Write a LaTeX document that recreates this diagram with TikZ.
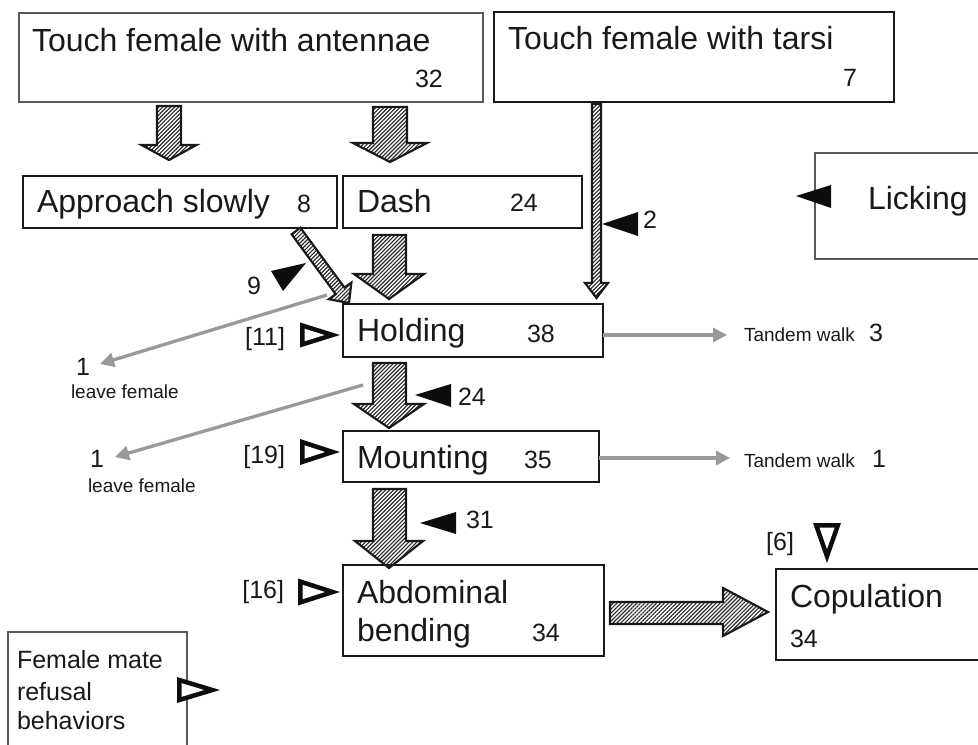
\documentclass[tikz,border=0pt]{standalone}
\usepackage{fontspec}
\setmainfont{Liberation Sans}
\usetikzlibrary{patterns.meta,arrows.meta}
\newcommand\fmain{\fontsize{24}{28}\selectfont}
\newcommand\fnum{\fontsize{18.75}{22}\selectfont}
\newcommand\fsmall{\fontsize{14.25}{17}\selectfont}
\newcommand\boxnode[6]{\node[#1, minimum width={(#4-#2)*0.75pt}, minimum height={(#5-#3)*0.75pt}] (#6) at ({(#2+#4)/2},{(#3+#5)/2}) {};}
% open (outlined) triangle: tip x, tip y, length, half height, rotation
\newcommand\opentri[5]{%
  \begin{scope}[shift={(#1,#2)},rotate=#5]
    \pgfmathsetmacro\tS{4.6*sqrt(#3*#3+#4*#4)/#4}
    \pgfmathsetmacro\tIL{#3-4.6-\tS}
    \pgfmathsetmacro\tIH{\tIL*#4/#3}
    \fill[black!95] (0,0) -- (-#3,-#4) -- (-#3,#4) -- cycle;
    \fill[white] (-\tS,0) -- ({-\tS-\tIL},-\tIH) -- ({-\tS-\tIL},\tIH) -- cycle;
  \end{scope}}
\tikzset{
  thinbox/.style={draw=black!65, line width=0.9pt, inner sep=0pt, outer sep=0pt},
  thickbox/.style={draw=black!90, line width=2pt, inner sep=0pt, outer sep=0pt},
  lab/.style={inner sep=0pt, outer sep=0pt, anchor=base west, font=\fmain, text=black!90},
  num/.style={inner sep=0pt, outer sep=0pt, anchor=base west, font=\fnum, text=black!90},
  small/.style={inner sep=0pt, outer sep=0pt, anchor=base west, font=\fsmall, text=black!90},
  hatch/.style={draw=black!90, line width=1.6pt, line join=miter,
    pattern={Lines[angle=45,distance=2.1pt,line width=0.85pt]}, pattern color=black!85},
  solidtri/.style={fill=black!95, draw=none},
  grayarr/.style={draw=black!40, line width=2.5pt, -{Triangle[length=10.5pt,width=10.5pt]}}
}
\begin{document}
\begin{tikzpicture}[x=0.75pt,y=-0.75pt]
\useasboundingbox (0,0) rectangle (978,745);
\clip (0,0) rectangle (978,745);
% boxes
\boxnode{thinbox}{19}{13}{483}{102}{antennae}
\boxnode{thickbox}{494}{12}{894}{102}{tarsi}
\boxnode{thickbox}{23}{176}{337}{228}{approach}
\boxnode{thickbox}{343}{176}{582}{228}{dash}
\boxnode{thinbox}{815}{153}{995}{259}{licking}
\boxnode{thickbox}{343}{304}{603}{357}{holding}
\boxnode{thickbox}{343}{431}{599}{482}{mounting}
\boxnode{thickbox}{343}{565}{604}{656}{abdominal}
\boxnode{thickbox}{776}{569}{995}{660}{copulation}
\boxnode{thinbox}{8}{632}{187}{765}{legend}
% box texts
\node[lab] (antT) at (32,52) {Touch female with antennae};
\node[num] (antN) at (415,88) {32};
\node[lab] (tarT) at (508,50) {Touch female with tarsi};
\node[num] (tarN) at (843,87) {7};
\node[lab] (appT) at (37,213) {Approach slowly};
\node[num] (appN) at (297,213) {8};
\node[lab] (dashT) at (357,213) {Dash};
\node[num] (dashN) at (510,212) {24};
\node[lab] (lickT) at (868,210) {Licking};
\node[lab] (holdT) at (357,341) {Holding};
\node[num] (holdN) at (527,343) {38};
\node[lab] (mountT) at (357,468) {Mounting};
\node[num] (mountN) at (524,468) {35};
\node[lab] (abdT1) at (357,603) {Abdominal};
\node[lab] (abdT2) at (357,641) {bending};
\node[num] (abdN) at (532,641) {34};
\node[lab] (copT) at (790,607) {Copulation};
\node[num] (copN) at (790,647) {34};
\node[num] (legT1) at (17,668) {Female mate};
\node[num] (legT2) at (17,700) {refusal};
\node[num] (legT3) at (17,729) {behaviors};
% hatched arrows
\draw[hatch] (157,106) -- (181,106) -- (181,145) -- (196.5,145) -- (169,160) -- (141.5,145) -- (157,145) -- cycle;
\draw[hatch] (373,107) -- (407,107) -- (407,143) -- (427,143) -- (390,162) -- (353,143) -- (373,143) -- cycle;
\draw[hatch] (373,235) -- (406,235) -- (406,274) -- (424,274) -- (389,299) -- (354,274) -- (373,274) -- cycle;
\draw[hatch] (373,363) -- (406,363) -- (406,404) -- (424,404) -- (389,428) -- (354,404) -- (373,404) -- cycle;
\draw[hatch] (373,489) -- (406,489) -- (406,541) -- (423,541) -- (389,568) -- (355,541) -- (373,541) -- cycle;
\draw[hatch] (592,104) -- (601,104) -- (601,283) -- (608,283) -- (596.5,298) -- (585,283) -- (592,283) -- cycle;
\draw[hatch] (300.4,227.7) -- (344.5,287.6) -- (351.4,282.6) -- (349,303) -- (328.8,299.2) -- (335.7,294.2) -- (291.6,234.3) -- cycle;
\draw[hatch] (610,602) -- (723,602) -- (723,588) -- (768,612) -- (723,636) -- (723,624) -- (610,624) -- cycle;
% solid triangles with counts
\fill[solidtri] (602,224) -- (638,212) -- (638,236) -- cycle;
\node[num] (c2) at (643,229) {2};
\fill[solidtri] (415,395) -- (451,384) -- (451,407) -- cycle;
\node[num] (c24) at (458,405) {24};
\fill[solidtri] (420,523) -- (456,512) -- (456,534) -- cycle;
\node[num] (c31) at (466,528) {31};
\fill[solidtri] (306,263) -- (271,271) -- (283,291) -- cycle;
\node[num] (c9) at (247,295) {9};
\fill[solidtri] (796,196) -- (831,185) -- (831,208) -- cycle;
% open triangles with bracket counts
\opentri{340}{335}{40}{12.5}{0}
\node[num, anchor=base east] (r11) at (285,345) {[11]};
\opentri{340}{452}{40}{13}{0}
\node[num, anchor=base east] (r19) at (285,463) {[19]};
\opentri{340}{592}{42}{13.5}{0}
\node[num, anchor=base east] (r16) at (284,598) {[16]};
\opentri{827}{563}{40}{14}{-90}
\node[num, anchor=base east] (r6) at (794,550) {[6]};
\opentri{220}{690}{43}{13}{0}
% gray side arrows
\coordinate (g1s) at (327,295);
\coordinate (g1e) at (100,364);
\coordinate (g2s) at (363,385);
\coordinate (g2e) at (115,457);
\coordinate (g3e) at (727,335);
\coordinate (g4e) at (730,458);
\draw[grayarr] (g1s) -- (g1e);
\draw[grayarr] (g2s) -- (g2e);
\draw[grayarr] (holding.east |- g3e) -- (g3e);
\draw[grayarr] (mounting.east |- g4e) -- (g4e);
\node[num] (l1n) at (76,375) {1};
\node[small] (l1t) at (71,398) {leave female};
\node[num] (l2n) at (90,467) {1};
\node[small] (l2t) at (88,492) {leave female};
\node[small] (tw1) at (744,341) {Tandem walk};
\node[num] (tw1n) at (869,341) {3};
\node[small] (tw2) at (744,467) {Tandem walk};
\node[num] (tw2n) at (872,467) {1};
\end{tikzpicture}
\end{document}
